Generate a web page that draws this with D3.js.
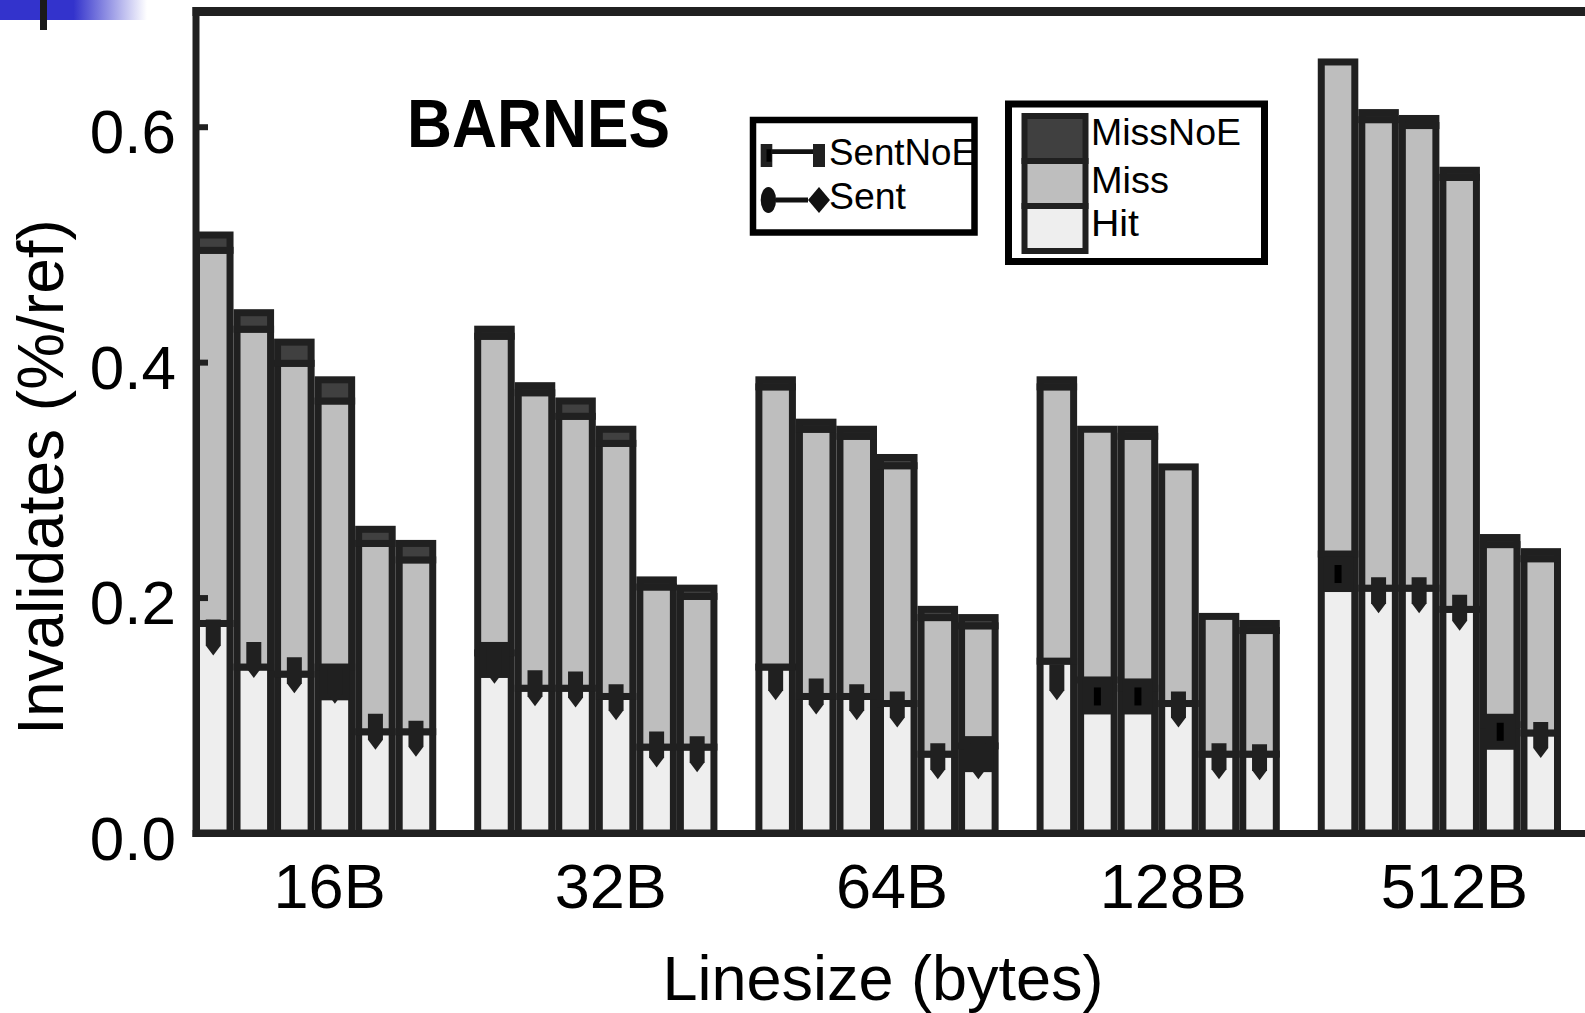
<!DOCTYPE html>
<html lang="en">
<head>
<meta charset="UTF-8">
<title>BARNES invalidates</title>
<script src="https://d3js.org/d3.v7.min.js"></script>
<style>
  body { margin: 0; background: #fff; }
  svg { display: block; font-family: "Liberation Sans", Arial, sans-serif; }
</style>
</head>
<body>
<svg id="canvas"></svg>
<script>
let groups = ["16B", "32B", "64B", "128B", "512B"]
let yTicks = [0, 0.2, 0.4, 0.6]

// stacked parts per linesize, six runs each
let hitVals = [
  [0.178, 0.141, 0.135, 0.141, 0.086, 0.086],
  [0.153, 0.123, 0.123, 0.116, 0.073, 0.073],
  [0.141, 0.116, 0.116, 0.110, 0.067, 0.074],
  [0.146, 0.130, 0.123, 0.110, 0.067, 0.067],
  [0.237, 0.208, 0.208, 0.190, 0.092, 0.085]
]
let missVals = [
  [0.317, 0.287, 0.264, 0.226, 0.160, 0.146],
  [0.269, 0.251, 0.231, 0.215, 0.136, 0.128],
  [0.238, 0.227, 0.221, 0.202, 0.116, 0.102],
  [0.233, 0.213, 0.214, 0.201, 0.117, 0.105],
  [0.418, 0.398, 0.393, 0.367, 0.153, 0.148]
]
let missNoEVals = [
  [0.013, 0.014, 0.018, 0.018, 0.012, 0.014],
  [0.006, 0.006, 0.013, 0.012, 0.006, 0.007],
  [0.006, 0.006, 0.006, 0.007, 0.007, 0.007],
  [0.006, 0, 0.006, 0, 0, 0.006],
  [0, 0.006, 0.006, 0.006, 0.006, 0.006]
]
// line series markers, null where nothing shows
let sentVals = [
  [0.166, 0.147, 0.134, 0.125, 0.086, 0.080],
  [0.142, 0.123, 0.122, 0.111, 0.071, 0.067],
  [0.128, 0.116, 0.111, 0.105, 0.061, 0.061],
  [0.128, null, null, 0.105, 0.061, 0.060],
  [null, 0.202, 0.202, 0.187, null, 0.079]
]
let sentNoEVals = [
  [null, null, null, 0.128, null, null],
  [0.147, null, null, null, null, null],
  [null, null, null, null, null, 0.067],
  [null, 0.116, 0.116, null, null, null],
  [0.220, null, null, null, 0.086, null]
]

let width = 1585
let height = 1013
let dark = "#202020"
let fills = ["#eeeeee", "#bebebe", "#404040"]

let svg = d3.select("#canvas").attr("width", width).attr("height", height)

// slide artefact in the corner
let grad = svg.append("defs").append("linearGradient").attr("id", "corner")
grad.append("stop").attr("offset", "0.5").attr("stop-color", "#3333cc")
grad.append("stop").attr("offset", "1").attr("stop-color", "#ffffff")
svg.append("rect").attr("x", 0).attr("y", 0).attr("width", 147).attr("height", 20).attr("fill", "url(#corner)")
svg.append("rect").attr("x", 40).attr("y", 0).attr("width", 7).attr("height", 30).attr("fill", "#1a1a1a")

let x = d3.scaleBand().domain(groups).range([193, 1561]).paddingInner(0.135).paddingOuter(0)
let xi = d3.scaleBand().domain(d3.range(6)).range([0, x.bandwidth()])
let y = d3.scaleLinear().domain([0, 0.7]).range([833, 9])

let rows = []
groups.forEach((g, gi) => {
  d3.range(6).forEach(i => {
    rows.push({
      g: g, i: i,
      hit: hitVals[gi][i], miss: missVals[gi][i], noe: missNoEVals[gi][i],
      sent: sentVals[gi][i], sentNoE: sentNoEVals[gi][i]
    })
  })
})

let barX = (d) => x(d.g) + xi(d.i)
let barMid = (d) => barX(d) + xi.bandwidth() / 2

// stacked bars
let bars = svg.append("g").selectAll("g").data(rows).enter().append("g")
bars.selectAll("rect")
  .data((d) => {
    let a = d.hit, b = d.hit + d.miss, c = b + d.noe
    return [[0, a, 0], [a, b, 1], [b, c, 2]].map(s => ({ d: d, v0: s[0], v1: s[1], k: s[2] }))
  })
  .enter()
  .filter((s) => s.v1 > s.v0)
  .append("rect")
  .attr("x", (s) => barX(s.d) + 3.5)
  .attr("width", xi.bandwidth() - 7)
  .attr("y", (s) => y(s.v1))
  .attr("height", (s) => y(s.v0) - y(s.v1))
  .attr("fill", (s) => fills[s.k])
  .attr("stroke", dark)
  .attr("stroke-width", 7)

// SentNoE markers
let noeRows = rows.filter(d => d.sentNoE != null)
svg.append("g").selectAll("rect").data(noeRows).enter().append("rect")
  .attr("x", (d) => barMid(d) - 15).attr("width", 30)
  .attr("y", (d) => y(d.sentNoE) - 18).attr("height", 36)
  .attr("fill", dark)
svg.append("g").selectAll("rect").data(noeRows).enter().append("rect")
  .attr("x", (d) => barMid(d) - 3.5).attr("width", 7)
  .attr("y", (d) => y(d.sentNoE) - 9).attr("height", 18)
  .attr("fill", "#000")

// Sent markers
svg.append("g").selectAll("path").data(rows.filter(d => d.sent != null)).enter().append("path")
  .attr("d", "M-7.5,-18L7.5,-18L7.5,8L0,18L-7.5,8Z")
  .attr("transform", (d) => "translate(" + barMid(d) + "," + y(d.sent) + ")")
  .attr("fill", dark)

// frame
svg.append("line").attr("x1", 196).attr("x2", 196).attr("y1", 7).attr("y2", 837)
  .attr("stroke", dark).attr("stroke-width", 7)
svg.append("line").attr("x1", 192.5).attr("x2", width).attr("y1", 11.5).attr("y2", 11.5)
  .attr("stroke", dark).attr("stroke-width", 9)
svg.append("line").attr("x1", 192.5).attr("x2", width).attr("y1", 833.5).attr("y2", 833.5)
  .attr("stroke", dark).attr("stroke-width", 7)

let yAxis = svg.append("g").attr("transform", "translate(196,0)")
  .call(d3.axisLeft(y).tickValues(yTicks).tickFormat(d3.format(".1f")).tickSize(-12).tickPadding(20))
yAxis.select(".domain").remove()
yAxis.selectAll("line").attr("stroke", dark).attr("stroke-width", 6)
yAxis.selectAll("text").attr("font-size", 62).attr("fill", "#000").attr("dy", "0.42em")
  .attr("font-family", "Liberation Sans, Arial, sans-serif")

let xAxis = svg.append("g").attr("transform", "translate(0,833)")
  .call(d3.axisBottom(x).tickSize(0).tickPadding(30))
xAxis.select(".domain").remove()
xAxis.selectAll("text").attr("font-size", 63).attr("fill", "#000").attr("x", 15)
  .attr("font-family", "Liberation Sans, Arial, sans-serif")

svg.append("text").attr("transform", "translate(63,477) rotate(-90)")
  .attr("text-anchor", "middle").attr("font-size", 64).text("Invalidates (%/ref)")
svg.append("text").attr("x", 883).attr("y", 1000)
  .attr("text-anchor", "middle").attr("font-size", 63).text("Linesize (bytes)")
svg.append("text").attr("x", 407).attr("y", 147)
  .attr("font-size", 68).attr("font-weight", "bold")
  .attr("textLength", 263).attr("lengthAdjust", "spacingAndGlyphs").text("BARNES")

// legend for the line series
let lg1 = svg.append("g")
lg1.append("rect").attr("x", 753).attr("y", 120).attr("width", 221.5).attr("height", 112.5)
  .attr("fill", "#fff").attr("stroke", "#000").attr("stroke-width", 6.5)
lg1.append("line").attr("x1", 772).attr("x2", 813).attr("y1", 151.7).attr("y2", 151.7)
  .attr("stroke", "#111").attr("stroke-width", 4.7)
lg1.append("rect").attr("x", 760.7).attr("y", 144).attr("width", 11.6).attr("height", 23).attr("fill", dark)
lg1.append("rect").attr("x", 766.5).attr("y", 149.3).attr("width", 5).attr("height", 12.4).attr("fill", "#000")
lg1.append("rect").attr("x", 813).attr("y", 144).attr("width", 12).attr("height", 23).attr("fill", dark)
lg1.append("line").attr("x1", 776).attr("x2", 808).attr("y1", 200).attr("y2", 200)
  .attr("stroke", "#111").attr("stroke-width", 5)
lg1.append("ellipse").attr("cx", 768.4).attr("cy", 200).attr("rx", 7.7).attr("ry", 13).attr("fill", "#111")
lg1.append("path").attr("d", "M808,200L819,187L830,200L819,213Z").attr("fill", "#111")
lg1.selectAll("text").data(["SentNoE", "Sent"]).enter().append("text")
  .attr("x", 829).attr("y", (d, i) => [165, 209][i]).attr("font-size", 36)
  .attr("textLength", (d, i) => [147, 77][i]).attr("lengthAdjust", "spacingAndGlyphs")
  .text(d => d)

// legend for the stacked parts
let partNames = ["MissNoE", "Miss", "Hit"]
let lg2 = svg.append("g")
lg2.append("rect").attr("x", 1008.5).attr("y", 104).attr("width", 256).attr("height", 157.5)
  .attr("fill", "#fff").attr("stroke", "#000").attr("stroke-width", 7)
lg2.selectAll(".sw").data(partNames).enter().append("rect").attr("class", "sw")
  .attr("x", 1024.5).attr("width", 61).attr("y", (d, i) => 116 + i * 45).attr("height", 45)
  .attr("fill", (d, i) => fills[2 - i]).attr("stroke", dark).attr("stroke-width", 6)
lg2.selectAll("text").data(partNames).enter().append("text")
  .attr("x", 1091).attr("y", (d, i) => [145, 193, 236][i]).attr("font-size", 36)
  .attr("textLength", (d, i) => [150, 78, 48][i]).attr("lengthAdjust", "spacingAndGlyphs")
  .text(d => d)
</script>
</body>
</html>
